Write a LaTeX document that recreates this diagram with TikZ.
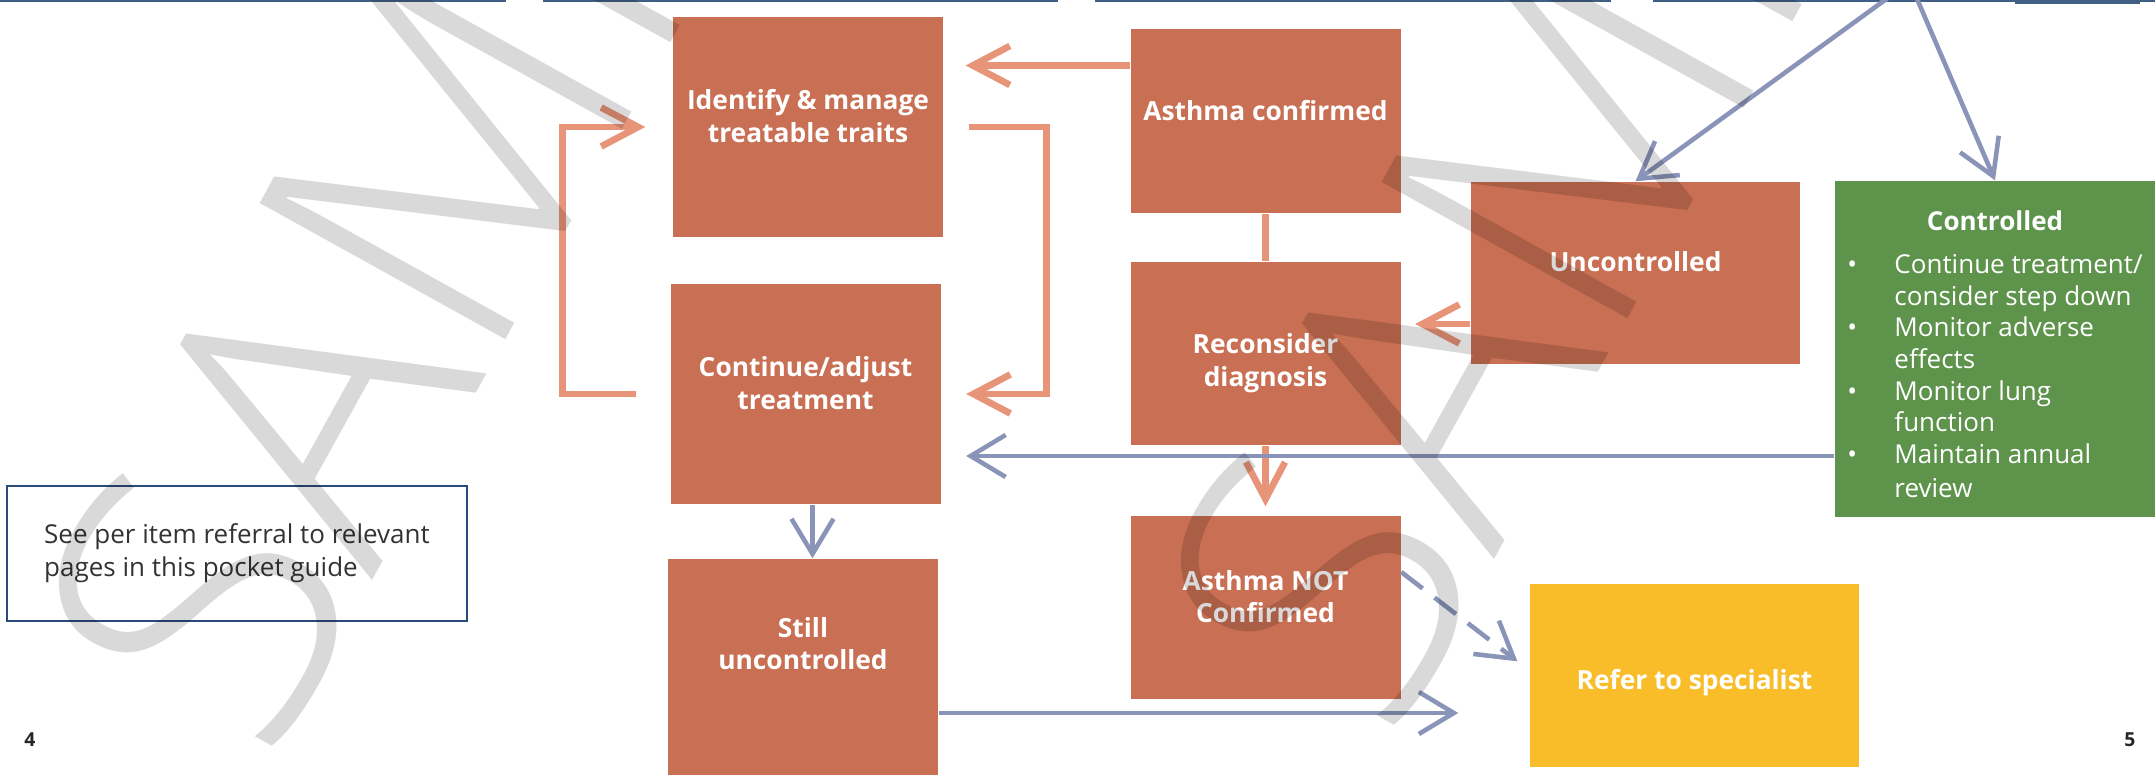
\documentclass[tikz,border=0pt]{standalone}
\usepackage{fontspec}
\setmainfont{Open Sans}
\IfFontExistsTF{Open Sans Light}{\newfontfamily\markfont{Open Sans Light}}{\newfontfamily\markfont{Open Sans}}
\usetikzlibrary{arrows.meta,positioning,calc}

\definecolor{boxorange}{HTML}{C96F53}
\definecolor{linkpink}{HTML}{E89478}
\definecolor{linkblue}{HTML}{8A94B8}
\definecolor{ctrlgreen}{HTML}{5E934C}
\definecolor{refyellow}{HTML}{F8BD28}
\definecolor{noteblue}{HTML}{2B4A7C}
\definecolor{pageblue}{HTML}{3F5F84}

\begin{document}
\begin{tikzpicture}[
		boxbase/.style={fill=boxorange, text=white, align=center, inner sep=0pt,
			minimum width=2.7cm, minimum height=2.2cm},
		stepbox/.style={boxbase, font=\bfseries\fontsize{7.5}{9.2}\selectfont},
		notebox/.style={draw=noteblue, line width=0.75pt, text=black!80, font=\fontsize{7.4}{9.4}\selectfont,
			align=left, inner sep=0pt, minimum width=4.6cm, minimum height=1.35cm},
		topbox/.style={draw=pageblue, line width=1pt, minimum height=1cm, anchor=south west, inner sep=0pt},
		pagenum/.style={font=\bfseries\fontsize{5.5}{6}\selectfont, text=black!85, inner sep=0pt},
		pinklink/.style={draw=linkpink, line width=1.9pt, -{Straight Barb[length=3.7mm,width=3.9mm]}},
		bluelink/.style={draw=linkblue, line width=1.3pt, -{Straight Barb[length=3.5mm,width=4.2mm]}},
		watermark/.style={text=black, text opacity=0.15, font=\markfont\fontsize{112}{112}\selectfont,
			rotate=61, anchor=west, inner sep=0pt},
	]
	\useasboundingbox (0,0) rectangle (21.55,-7.75);
	
	% Boxes of the previous row (only their lower edges show)
	\node[topbox, minimum width=5.02cm] (prev1) at (0,-0.02) {};
	\node[topbox, minimum width=5.11cm] (prev2) at (5.43,-0.02) {};
	\node[topbox, minimum width=5.12cm] (prev3) at (10.95,-0.02) {};
	\node[topbox, minimum width=5.10cm] (prev4) at (16.53,-0.02) {};
	\fill[pageblue] (20.15,0) rectangle (21.40,-0.04);
	
	% Left page
	\begin{scope}
		\node[stepbox, text depth=2.2mm] (ident) at (8.08,-1.27) {Identify \& manage\\treatable traits};
		\node[stepbox, text depth=2.2mm] (adjust) at (8.055,-3.94) {Continue/adjust\\treatment};
		\node[stepbox, text depth=5.1mm] (still) at (8.03,-6.69) {Still\\uncontrolled};
		
		\node[notebox] (note) at (2.37,-5.535) {See per item referral to relevant\\pages in this pocket guide};
		\node[pagenum] (pgleft) at (0.30,-7.40) {4};
		
		% Treatment loop
		\draw[pinklink] ([xshift=2.5mm]ident.east) -- ++(7.8mm,0) |- ([xshift=2.5mm]adjust.east);
		\draw[pinklink] ([xshift=-3.4mm]adjust.west) -- ++(-7.3mm,0) |- ([xshift=-2.7mm]ident.west);
		
		\coordinate (ads) at ([xshift=0.7mm]adjust.south);
		\draw[bluelink] (ads) -- (ads |- still.north);
	\end{scope}
	
	% Right page
	\begin{scope}
		\node[stepbox, minimum height=1.84cm, text depth=2.2mm] (confirmed) at (12.655,-1.21) {Asthma confirmed};
		\node[stepbox, minimum height=1.83cm, text height=7.2mm] (reconsider) at (12.655,-3.535) {Reconsider\\diagnosis};
		\node[stepbox, minimum height=1.83cm, text depth=2.2mm] (notconf) at (12.655,-6.075) {Asthma NOT\\Confirmed};
		\node[stepbox, minimum width=3.29cm, minimum height=1.82cm, text depth=2.2mm] (uncontr) at (16.355,-2.73) {Uncontrolled};
		\node[stepbox, fill=refyellow, minimum width=3.29cm, minimum height=1.83cm, text height=3.4mm] (refer) at (16.945,-6.755) {Refer to specialist};
		\node[boxbase, fill=ctrlgreen, minimum width=3.2cm, minimum height=3.36cm, text height=8.2mm,
			font=\fontsize{7.4}{9.0}\selectfont] (ctrl) at (19.95,-3.49) {
			{\bfseries Controlled}\\[3.1pt]
			\begin{tabular}[t]{@{}p{4.7mm}@{}l@{}}
				\textbullet & Continue treatment/\\
				& consider step down\\
				\textbullet & Monitor adverse\\
				& effects\\
				\textbullet & Monitor lung\\
				& function\\
				\textbullet & Maintain annual\\[0.6pt]
				& review
			\end{tabular}
		};
		\node[pagenum] (pgright) at (21.30,-7.40) {5};
		
		% Links from the row above
		\draw[bluelink] ([yshift=2mm]prev4.south) -- (uncontr.north);
		\draw[bluelink] ([yshift=2mm]prev4.south) -- (ctrl.north);
		
		\coordinate (cfl) at ([yshift=5.55mm]confirmed.west);
		\draw[pinklink, shorten >=2.2mm] (cfl) -- (cfl -| ident.east);
		\draw[pinklink, -] (confirmed) -- (reconsider);
		\coordinate (ucl) at ([yshift=-5.1mm]uncontr.west);
		\draw[pinklink, shorten >=1.4mm] (ucl) -- (ucl -| reconsider.east);
		\draw[pinklink, shorten >=0.9mm] (reconsider) -- (notconf);
		
		\coordinate (ctl) at ([yshift=-10.7mm]ctrl.west);
		\draw[bluelink, shorten >=2.5mm] (ctl) -- (ctl -| adjust.east);
		\coordinate (stl) at ([yshift=-4.4mm]still.east);
		\draw[bluelink, shorten >=7.1mm] (stl) -- (stl -| refer.west);
		\draw[bluelink, dash pattern=on 2.7mm off 1.5mm, shorten >=1.5mm] ([yshift=3.55mm]notconf.east) -- ([yshift=0.5mm]refer.west);
	\end{scope}
	
	% Watermark
	\node[watermark] (wmleft) at (1.45,-7.01) {SAMPLE};
	\node[watermark] (wmright) at (12.67,-6.80) {SAMPLE};
\end{tikzpicture}
\end{document}
